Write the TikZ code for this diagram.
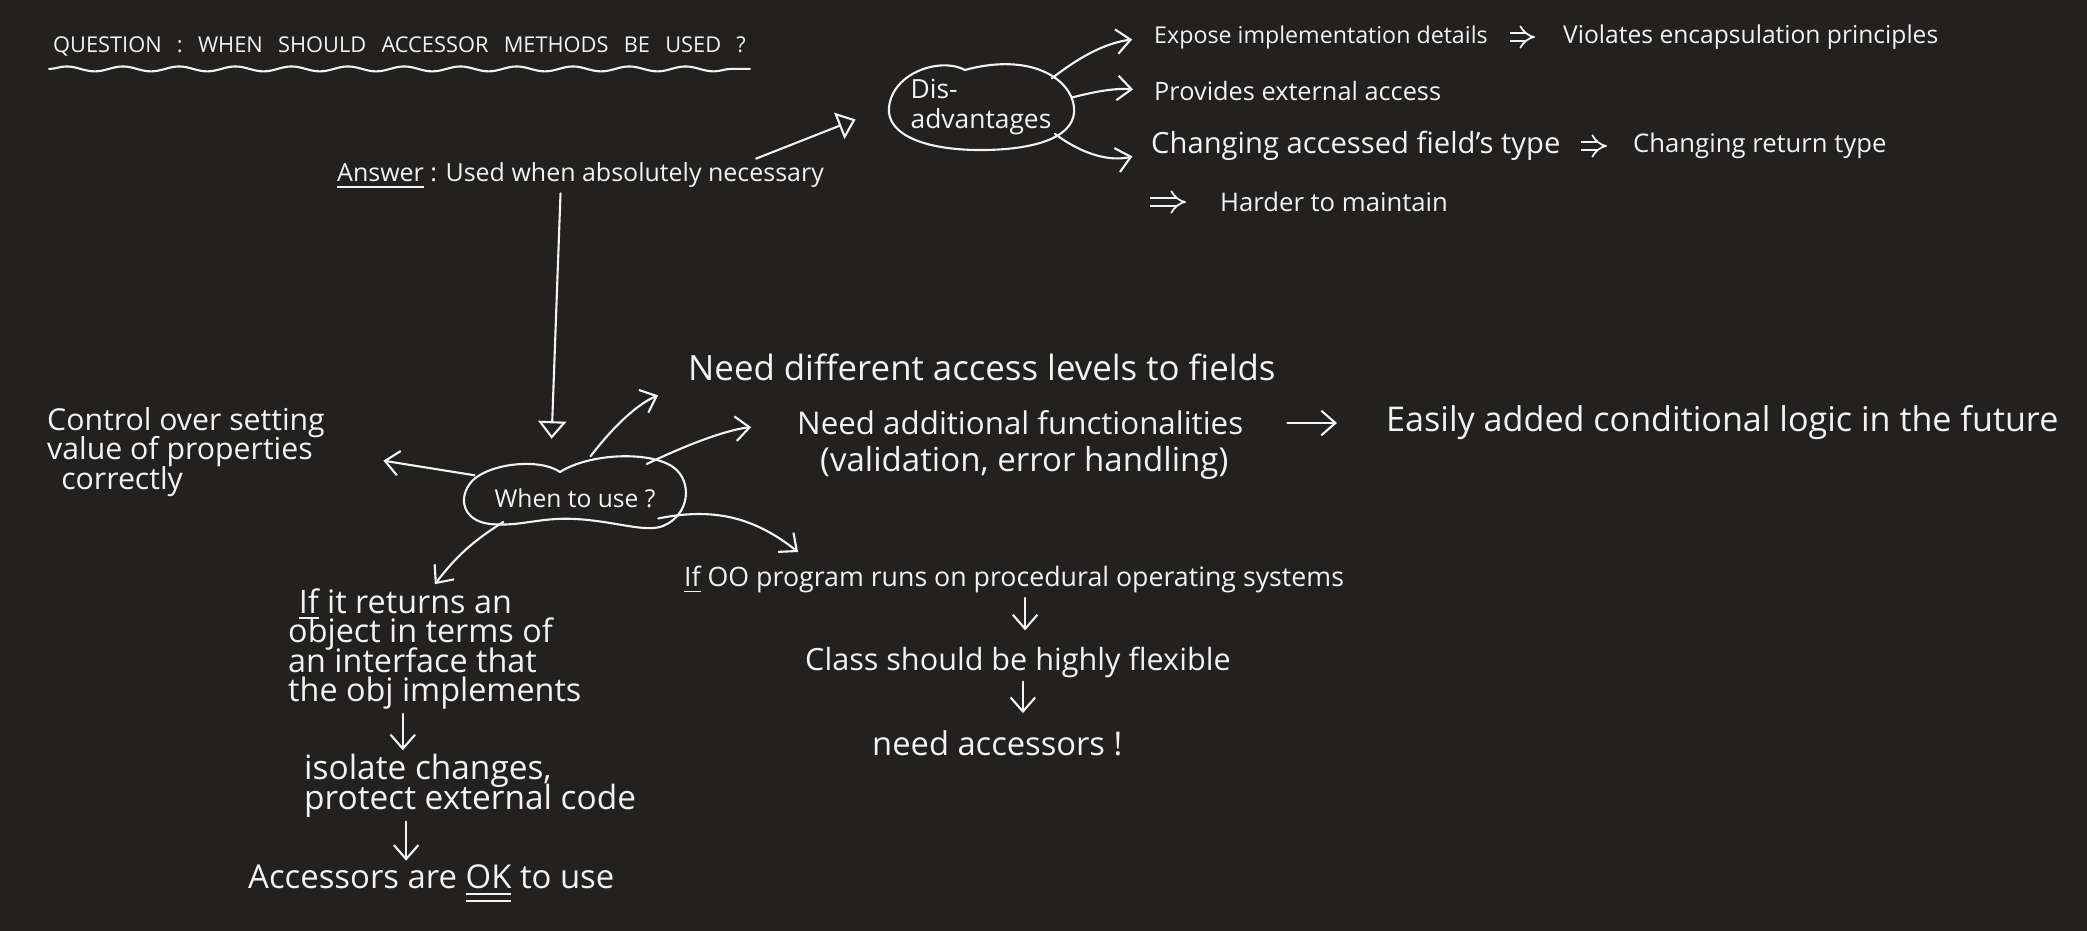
\documentclass[tikz,border=0pt]{standalone}
\usepackage{fontspec}
\setmainfont{Open Sans}
\usetikzlibrary{arrows.meta,shapes.geometric,decorations.pathmorphing,calc}
\definecolor{cBg}{HTML}{222120}
\definecolor{cInk}{HTML}{F2F2F2}
\newcommand{\wgap}{\hspace{0.7em}}
\lineskiplimit=-4pt
\tikzset{
  hand/.style={text=cInk, inner sep=1pt, font=\fontsize{#1}{8.4pt}\selectfont},
  hand/.default=8,
  ink/.style={draw=cInk, line width=0.6pt, line cap=round, line join=round},
  barb/.style={ink, -{Straight Barb[length=4pt,width=7pt]}},
  tri/.style={ink, -{Triangle[open,length=5pt,width=8pt]}},
  imp/.style={draw=cInk, line width=0.5pt, double=cBg, double distance=1.8pt, -Implies},
  blob/.style={ellipse, inner sep=0pt, draw=none},
}

\begin{document}
\begin{tikzpicture}[x=0.01cm, y=-0.01cm]
\useasboundingbox (0,0) rectangle (2087,931);
\fill[cBg] (0,0) rectangle (2087,931);
% question and answer
\node[hand=6.2, anchor=base west] (title) at (49,53) {QUESTION\wgap:\wgap WHEN\wgap SHOULD\wgap ACCESSOR\wgap METHODS\wgap BE\wgap USED\wgap ?};
\draw[ink, decorate, decoration={snake, amplitude=0.7pt, segment length=16pt}] ([yshift=-0.08cm]title.south west) -- ([yshift=-0.08cm]title.south east);
\node[hand=7.1, anchor=west] (answer) at (333,176) {\underline{Answer} : Used when absolutely necessary};
% disadvantages
\node[blob, minimum width=1.86cm, minimum height=0.86cm] (dis) at (981,107) {};
\node[hand=7.5, align=left] (distxt) at (dis) {Dis-\\advantages};
\begin{scope}[shift={(dis.center)}]
  \draw[ink] (-16,-37) .. controls (-40,-50) and (-88,-35) .. (-92,0)
    .. controls (-95,28) and (-55,44) .. (5,43)
    .. controls (60,42) and (96,28) .. (93,0)
    .. controls (90,-28) and (50,-55) .. (-16,-37);
\end{scope}
\node[hand=6.6, anchor=west] (expose) at (1150,37) {Expose implementation details};
\node[hand=7, anchor=west] (violates) at (1559,37) {Violates encapsulation principles};
\node[hand=7.2, anchor=west] (provides) at (1150,91) {Provides external access};
\node[hand=8.3, anchor=west] (changing) at (1147,146) {Changing accessed field's type};
\node[hand=7.3, anchor=west] (rettype) at (1629,146) {Changing return type};
\coordinate (hstart) at (1150,202);
\node[hand=7.3, anchor=west] (harder) at (1216,202) {Harder to maintain};
\draw[tri, shorten >=0.34cm] ([xshift=-0.72cm]answer.north east) -- (dis.west);
\draw[barb, shorten >=0.18cm] (dis.22) to[bend left=15] (expose.west);
\draw[barb, shorten >=0.17cm] (dis.6) to[bend left=10] (provides.west);
\draw[barb, shorten >=0.15cm] (dis.-20) to[bend right=25] ([yshift=-0.07cm]changing.west);
\draw[imp, shorten <=0.18cm, shorten >=0.24cm] (expose) -- (violates);
\draw[imp, shorten <=0.16cm, shorten >=0.22cm] (changing) -- (rettype);
\draw[imp, shorten >=0.3cm] (hstart) -- (harder);
% when to use
\node[blob, minimum width=2.27cm, minimum height=0.73cm] (when) at (575,493) {};
\node[hand=7] (whentxt) at ([yshift=-0.05cm]when.center) {When to use ?};
\begin{scope}[shift={(when.center)}]
  \draw[ink] (-15,-21) .. controls (-35,-35) and (-85,-30) .. (-103,-12)
    .. controls (-118,5) and (-112,28) .. (-85,31)
    .. controls (-55,34) and (-35,24) .. (0,26)
    .. controls (40,28) and (70,40) .. (88,33)
    .. controls (115,22) and (118,-12) .. (98,-26)
    .. controls (75,-42) and (15,-40) .. (-15,-21);
\end{scope}
\draw[tri, shorten >=0.17cm] ([xshift=-0.2cm]answer.south) -- ([xshift=-0.24cm]when.north);
\node[hand=8.6, anchor=west, align=left] (control) at (43,452) {Control over setting\\value of properties\\\hspace*{4pt}correctly};
\node[hand=9.9, anchor=west] (levels) at (684,367) {Need different access levels to fields};
\node[hand=8.9, anchor=west] (addfunc) at (793,423) {Need additional functionalities};
\node[hand=9.4, anchor=west] (valid) at (816,463) {(validation, error handling)};
\node[hand=9.7, anchor=west] (easily) at (1382,423) {Easily added conditional logic in the future};
\node[hand=7.6, anchor=west] (oo) at (680,580) {\underline{If} OO program runs on procedural operating systems};
\node[hand=8.7, anchor=west] (flex) at (801,662) {Class should be highly flexible};
\node[hand=9.3, anchor=west] (needacc) at (868,743) {need accessors !};
\node[hand=9.2, anchor=west, align=left] (ifobj) at (284,649) {\hspace*{3pt}\underline{If} it returns an\\object in terms of\\an interface that\\the obj implements};
\node[hand=9.5, anchor=west, align=left] (isolate) at (300,786) {isolate changes,\\protect external code};
\node[hand=9.35, anchor=west] (okuse) at (244,884) {Accessors are \underline{\underline{OK}} to use};
\draw[barb, shorten >=0.55cm] (when.170) -- (control.east);
\draw[barb, shorten >=0.28cm] (when.67) to[bend left=15] (levels.south west);
\draw[barb, shorten >=0.42cm] (when.22) to[bend left=10] (addfunc.west);
\draw[barb, shorten <=0.4cm, shorten >=0.45cm] (addfunc) -- (easily);
\draw[barb] (when.-17) to[bend left=25] ([xshift=1.18cm, yshift=0.1cm]oo.north west);
\draw[barb] (when.-158) to[bend right=10] (ifobj.north);
\draw[barb, shorten >=0.12cm] ($(oo.south)+(11,0)$) -- ($(oo.south |- flex.north)+(11,0)$);
\draw[barb, shorten >=0.13cm] ($(flex.south)+(5,0)$) -- ($(flex.south |- needacc.north)+(5,0)$);
\draw[barb] ($(ifobj.south)+(-32,0)$) -- ($(ifobj.south |- isolate.north)+(-32,0)$);
\draw[barb] ($(isolate.south)+(-64,0)$) -- ($(isolate.south |- okuse.north)+(-64,0)$);
\end{tikzpicture}
\end{document}
